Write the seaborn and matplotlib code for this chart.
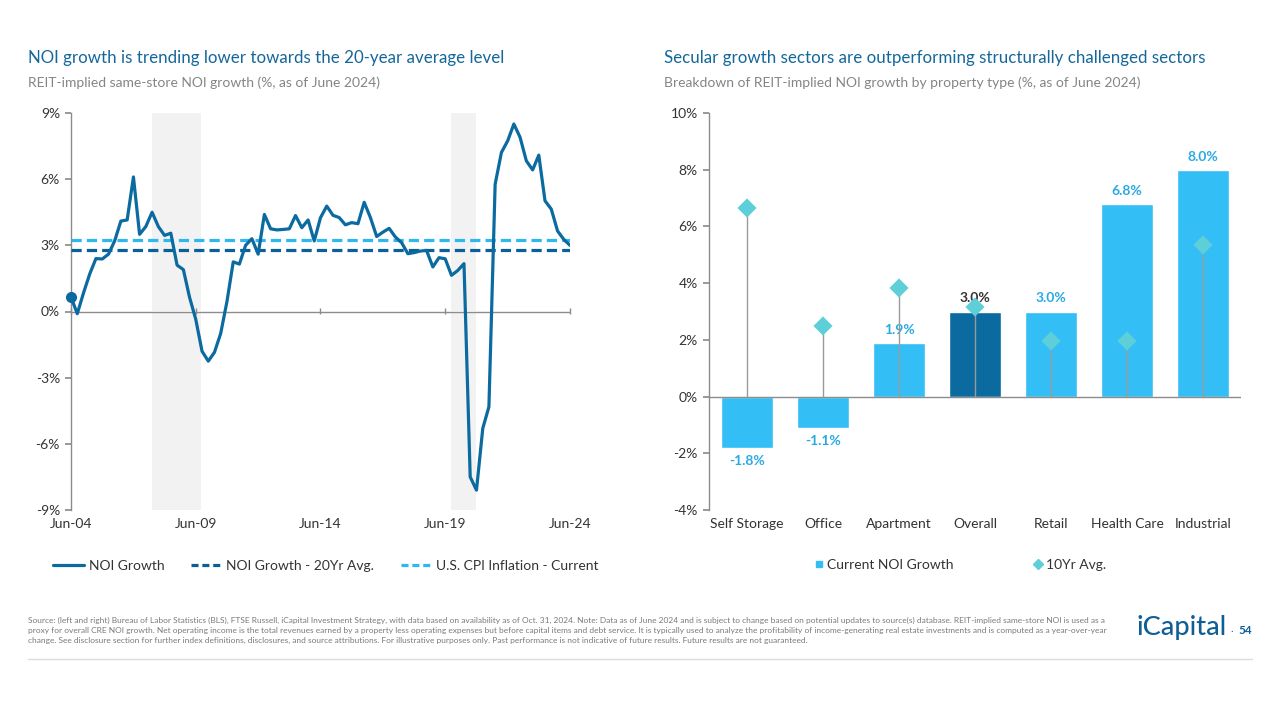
import matplotlib
matplotlib.use("Agg")
import matplotlib.pyplot as plt
from matplotlib.lines import Line2D
import seaborn as sns
import pandas as pd
import numpy as np

sns.set_theme(style="white")
plt.rcParams['font.family'] = ['Lato', 'DejaVu Sans']

# ---------------- data ----------------
noi_growth = [0.65, -0.1, 0.85, 1.7, 2.4, 2.38, 2.6, 3.2, 4.1, 4.15,
              6.1, 3.5, 3.85, 4.5, 3.85, 3.45, 3.55, 2.1, 1.9, 0.65,
              -0.35, -1.8, -2.25, -1.85, -1.0, 0.45, 2.25, 2.15, 3.0, 3.3,
              2.6, 4.4, 3.75, 3.7, 3.72, 3.75, 4.35, 3.8, 4.15, 3.2,
              4.25, 4.78, 4.36, 4.26, 3.93, 4.03, 3.98, 4.95, 4.26, 3.4,
              3.6, 3.77, 3.38, 3.12, 2.62, 2.67, 2.74, 2.77, 2.02, 2.44,
              2.39, 1.64, 1.86, 2.17, -7.5, -8.1, -5.3, -4.32, 5.77, 7.21,
              7.74, 8.5, 7.9, 6.83, 6.42, 7.09, 5.02, 4.64, 3.65, 3.27, 3.0]
noi_20yr_avg = 2.78
cpi_current = 3.25
recessions = [("2007-10-01", "2009-09-15"), ("2019-09-20", "2020-09-30")]
left_ticks = ["2004-06-30", "2009-06-30", "2014-06-30", "2019-06-30", "2024-06-30"]
left_ticklabels = ["Jun-04", "Jun-09", "Jun-14", "Jun-19", "Jun-24"]

sectors = ["Self Storage", "Office", "Apartment", "Overall", "Retail", "Health Care", "Industrial"]
current_noi = [-1.8, -1.1, 1.9, 3.0, 3.0, 6.8, 8.0]
avg_10yr = [6.65, 2.49, 3.83, 3.16, 1.96, 1.96, 5.35]

# ---------------- colors ----------------
DARK = "#0B6A9F"
LIGHT = "#33BFF5"
TEAL = "#5ECFD9"
TITLE = "#14679B"
SUB = "#858585"
AXC = "#8C8C8C"
TXT = "#333333"

fig = plt.figure(figsize=(12.8, 7.2), dpi=100)

# ---------------- left chart ----------------
dates = pd.date_range("2004-06-30", periods=len(noi_growth), freq="QE")
df = pd.DataFrame({"date": dates, "NOI Growth": noi_growth})

axL = fig.add_axes([71/1280, 1-510/720, 499/1280, 397/720])
for s, e in recessions:
    axL.axvspan(pd.Timestamp(s), pd.Timestamp(e), color="#F2F2F2", lw=0, zorder=0)
axL.axhline(0, color=AXC, lw=1.0, zorder=2)
sns.lineplot(data=df, x="date", y="NOI Growth", ax=axL, color=DARK, lw=2.3, zorder=4)
axL.plot(dates[:1], noi_growth[:1], marker="o", ms=7, color=DARK, zorder=5, clip_on=False)
axL.axhline(noi_20yr_avg, color="#0A5F95", lw=2.3, dashes=(3.2, 1.6), zorder=3)
axL.axhline(cpi_current, color="#2FB7F0", lw=2.3, dashes=(3.2, 1.6), zorder=3)

axL.set_xlim(pd.Timestamp("2004-06-30"), pd.Timestamp("2024-06-30"))
axL.set_ylim(-9, 9)
axL.set_yticks([-9, -6, -3, 0, 3, 6, 9])
axL.set_yticklabels([f"{v}%" for v in [-9, -6, -3, 0, 3, 6, 9]])
axL.set_xticks([pd.Timestamp(t) for t in left_ticks])
axL.set_xticklabels(left_ticklabels)
axL.set_xlabel("")
axL.set_ylabel("")
for sp in ["top", "right", "bottom"]:
    axL.spines[sp].set_visible(False)
axL.spines["left"].set_color(AXC)
axL.spines["left"].set_linewidth(1.0)
axL.tick_params(axis="y", left=True, length=4, color=AXC, labelsize=10, labelcolor=TXT, pad=4)
axL.tick_params(axis="x", bottom=False, labelsize=10, labelcolor=TXT, pad=0)
sec = axL.secondary_xaxis(0.5)
sec.set_xticks([pd.Timestamp(t) for t in left_ticks])
sec.set_xticklabels([])
sec.tick_params(axis="x", direction="inout", length=5, color=AXC, width=1.0)
for sp in sec.spines.values():
    sp.set_visible(False)

# ---------------- right chart ----------------
dfR = pd.DataFrame({"sector": sectors, "current": current_noi, "avg": avg_10yr})
bar_colors = [DARK if s == "Overall" else LIGHT for s in sectors]

axR = fig.add_axes([709/1280, 1-510/720, 532/1280, 397/720])
sns.barplot(data=dfR, x="sector", y="current", hue="sector", palette=bar_colors,
            legend=False, ax=axR, width=0.68, saturation=1, zorder=2)
axR.axhline(0, color=AXC, lw=1.0, zorder=3)
xs = np.arange(len(sectors))
axR.vlines(xs, 0, avg_10yr, color="#9A9A9A", lw=1.0, zorder=4)
sns.scatterplot(x=xs, y=avg_10yr, marker="D", s=95, color=TEAL, edgecolor="none",
                ax=axR, zorder=5, legend=False)
for i, (s, v) in enumerate(zip(sectors, current_noi)):
    col = TXT if s == "Overall" else "#2AA9E3"
    if v >= 0:
        axR.text(i, v + 0.25, f"{v:.1f}%", ha="center", va="bottom",
                 fontsize=10, fontweight="bold", color=col)
    else:
        axR.text(i, v - 0.25, f"{v:.1f}%", ha="center", va="top",
                 fontsize=10, fontweight="bold", color=col)

axR.set_ylim(-4, 10)
axR.set_xlim(-0.5, len(sectors) - 0.5)
axR.set_yticks(range(-4, 11, 2))
axR.set_yticklabels([f"{v}%" for v in range(-4, 11, 2)])
axR.set_xlabel("")
axR.set_ylabel("")
for sp in ["top", "right", "bottom"]:
    axR.spines[sp].set_visible(False)
axR.spines["left"].set_color(AXC)
axR.spines["left"].set_linewidth(1.0)
axR.tick_params(axis="y", left=True, length=4, color=AXC, labelsize=10, labelcolor=TXT, pad=4)
axR.tick_params(axis="x", bottom=False, labelsize=10, labelcolor=TXT, pad=0)

# ---------------- titles ----------------
fig.text(28/1280, 1-58/720, "NOI growth is trending lower towards the 20-year average level",
         fontsize=12.2, color=TITLE, va="center", ha="left")
fig.text(28/1280, 1-83/720, "REIT-implied same-store NOI growth (%, as of June 2024)",
         fontsize=10, color=SUB, va="center", ha="left")
fig.text(664/1280, 1-58/720, "Secular growth sectors are outperforming structurally challenged sectors",
         fontsize=12.2, color=TITLE, va="center", ha="left")
fig.text(664/1280, 1-83/720, "Breakdown of REIT-implied NOI growth by property type (%, as of June 2024)",
         fontsize=10, color=SUB, va="center", ha="left")

# ---------------- legends ----------------
hL = [Line2D([], [], color=DARK, lw=2.3),
      Line2D([], [], color="#0A5F95", lw=2.3, dashes=(2.2, 1.2)),
      Line2D([], [], color="#2FB7F0", lw=2.3, dashes=(2.2, 1.2))]
fig.legend(hL, ["NOI Growth", "NOI Growth - 20Yr Avg.", "U.S. CPI Inflation - Current"],
           loc="center", bbox_to_anchor=(326/1280, 1-566/720), ncol=3, frameon=False,
           fontsize=10, handlelength=2.2, handletextpad=0.35, columnspacing=1.9,
           labelcolor=TXT)
hR = [Line2D([], [], color=LIGHT, marker="s", ls="none", ms=5),
      Line2D([], [], color=TEAL, marker="D", ls="none", ms=5)]
fig.legend(hR, ["Current NOI Growth", "10Yr Avg."],
           loc="center", bbox_to_anchor=(960/1280, 1-565/720), ncol=2, frameon=False,
           fontsize=10, handlelength=0.7, handletextpad=0.25, columnspacing=5.7,
           labelcolor=TXT)

# ---------------- footer ----------------
foot = ("Source: (left and right) Bureau of Labor Statistics (BLS), FTSE Russell, iCapital Investment Strategy, with data based on availability as of Oct. 31, 2024. Note: Data as of June 2024 and is subject to change based on potential updates to source(s) database. REIT-implied same-store NOI is used as a\n"
        "proxy for overall CRE NOI growth. Net operating income is the total revenues earned by a property less operating expenses but before capital items and debt service. It is typically used to analyze the profitability of income-generating real estate investments and is computed as a year-over-year\n"
        "change. See disclosure section for further index definitions, disclosures, and source attributions. For illustrative purposes only. Past performance is not indicative of future results. Future results are not guaranteed.")
fig.text(28/1280, 1-617/720, foot, fontsize=6.05, color="#7A7A7A", va="top", ha="left",
         linespacing=1.5)
fig.text(1137/1280, 1-628/720, "iCapital", fontsize=19.5, color="#0F5F96", va="center", ha="left",
         fontweight="medium")
fig.text(1230/1280, 1-628/720, ".", fontsize=8, color="#0F5F96", va="center", ha="left")
fig.text(1238/1280, 1-630/720, "54", fontsize=8.5, color="#0F5F96", va="center", ha="left",
         fontweight="bold")
fig.add_artist(Line2D([28/1280, 1252/1280], [1-659/720, 1-659/720], color="#DDDDDD", lw=1.0))

fig.savefig("out.png", dpi=100)
